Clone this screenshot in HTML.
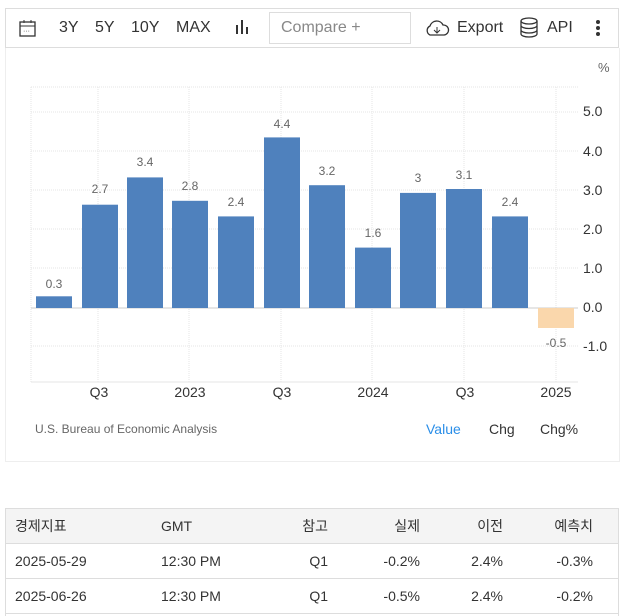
<!DOCTYPE html>
<html><head><meta charset="utf-8"><style>
body{margin:0;width:628px;height:616px;background:#fff;font-family:"Liberation Sans","Noto Sans CJK KR",sans-serif;overflow:hidden;position:relative}
.a{position:absolute}
.tb{left:5px;top:8px;width:614px;height:40px;border:1px solid #ddd;box-sizing:border-box}
.t{position:absolute;font-size:16px;color:#333;top:19px}
.panel{left:5px;top:48px;width:615px;height:414px;border:1px solid #eee;border-top:none;box-sizing:border-box}
table{position:absolute;left:5px;top:508px;width:614px;border-collapse:collapse;font-size:14px;color:#333}
td{height:34px;border-bottom:1px solid #ddd;padding:0}
tr.h td{background:#f4f4f4;height:34px}
</style></head><body>
<div class="a tb"></div>
<svg class="a" style="left:18px;top:18px" width="20" height="20"><rect x="2" y="4" width="15" height="14" fill="none" stroke="#333" stroke-width="1.3"/><line x1="2" y1="8" x2="17" y2="8" stroke="#333"/><line x1="6" y1="2" x2="6" y2="5" stroke="#333"/><line x1="13" y1="2" x2="13" y2="5" stroke="#333"/><text x="5" y="15" font-size="7" fill="#333">···</text></svg>
<div class="t" style="left:59px">3Y</div><div class="t" style="left:95px">5Y</div><div class="t" style="left:131px">10Y</div><div class="t" style="left:176px">MAX</div>
<svg class="a" style="left:235px;top:19px" width="16" height="16"><rect x="1" y="6" width="2" height="9" fill="#333"/><rect x="6" y="1" width="2" height="14" fill="#333"/><rect x="11" y="8" width="2" height="7" fill="#333"/></svg>
<div class="a" style="left:269px;top:12px;width:142px;height:32px;border:1px solid #ddd;box-sizing:border-box"></div>
<div class="t" style="left:281px;color:#888">Compare +</div>
<svg class="a" style="left:424px;top:19px" width="26" height="18"><path d="M6 16 A5 5 0 0 1 6 7 A7 7 0 0 1 19 6 A5 5 0 0 1 20 16 Z" fill="none" stroke="#333" stroke-width="1.3"/><path d="M13 8 V14 M10 11 L13 14 L16 11" stroke="#333" fill="none"/></svg>
<div class="t" style="left:457px">Export</div>
<svg class="a" style="left:519px;top:17px" width="20" height="22"><ellipse cx="10" cy="4" rx="8" ry="3" fill="none" stroke="#333" stroke-width="1.3"/><path d="M2 4V17A8 3 0 0 0 18 17V4M2 8.5A8 3 0 0 0 18 8.5M2 13A8 3 0 0 0 18 13" fill="none" stroke="#333" stroke-width="1.3"/></svg>
<div class="t" style="left:547px">API</div>
<svg class="a" style="left:594px;top:19px" width="8" height="18"><circle cx="4" cy="3" r="2" fill="#333"/><circle cx="4" cy="9" r="2" fill="#333"/><circle cx="4" cy="15" r="2" fill="#333"/></svg>
<div class="a panel"></div>
<svg class="a" style="left:0;top:0" width="628" height="470" font-family="Liberation Sans, sans-serif">
<g stroke="#e6e6e6" stroke-dasharray="1,1">
<line x1="31" y1="87" x2="578" y2="87"/>
<line x1="31" y1="112" x2="578" y2="112"/><line x1="31" y1="151" x2="578" y2="151"/><line x1="31" y1="190" x2="578" y2="190"/><line x1="31" y1="229" x2="578" y2="229"/><line x1="31" y1="268" x2="578" y2="268"/><line x1="31" y1="346" x2="578" y2="346"/>
<line x1="31" y1="87" x2="31" y2="382"/><line x1="98" y1="87" x2="98" y2="382"/><line x1="189" y1="87" x2="189" y2="382"/><line x1="281" y1="87" x2="281" y2="382"/><line x1="372" y1="87" x2="372" y2="382"/><line x1="464" y1="87" x2="464" y2="382"/><line x1="556" y1="87" x2="556" y2="382"/>
</g>
<line x1="31" y1="382" x2="578" y2="382" stroke="#e6e6e6"/>
<line x1="31" y1="308" x2="578" y2="308" stroke="#ccc"/>
<g fill="#4f81bd">
<rect x="36" y="296.3" width="36" height="11.7"/><rect x="82" y="204.7" width="36" height="103.3"/><rect x="127" y="177.4" width="36" height="130.6"/><rect x="172" y="200.8" width="36" height="107.2"/><rect x="218" y="216.4" width="36" height="91.6"/><rect x="264" y="137.4" width="36" height="170.6"/><rect x="309" y="185.2" width="36" height="122.8"/><rect x="355" y="247.6" width="36" height="60.4"/><rect x="400" y="192.9" width="36" height="115.1"/><rect x="446" y="189" width="36" height="119"/><rect x="492" y="216.4" width="36" height="91.6"/>
</g>
<rect x="538" y="308" width="36" height="20" fill="#fad7ac"/>
<g font-size="12" fill="#666" text-anchor="middle">
<text x="54" y="288">0.3</text><text x="100" y="193">2.7</text><text x="145" y="166">3.4</text><text x="190" y="190">2.8</text><text x="236" y="206">2.4</text><text x="282" y="128">4.4</text><text x="327" y="175">3.2</text><text x="373" y="237">1.6</text><text x="418" y="182">3</text><text x="464" y="179">3.1</text><text x="510" y="206">2.4</text><text x="556" y="347">-0.5</text>
</g>
<g font-size="14" fill="#333">
<text x="583" y="116">5.0</text><text x="583" y="156">4.0</text><text x="583" y="195">3.0</text><text x="583" y="234">2.0</text><text x="583" y="273">1.0</text><text x="583" y="312">0.0</text><text x="583" y="351">-1.0</text>
<text x="598" y="72" font-size="13" fill="#666">%</text>
<g text-anchor="middle"><text x="99" y="397">Q3</text><text x="190" y="397">2023</text><text x="282" y="397">Q3</text><text x="373" y="397">2024</text><text x="465" y="397">Q3</text><text x="556" y="397">2025</text></g>
</g>
<text x="35" y="433" font-size="12" fill="#666">U.S. Bureau of Economic Analysis</text>
<text x="426" y="434" font-size="14" fill="#2a8ee8">Value</text>
<text x="489" y="434" font-size="14" fill="#333">Chg</text>
<text x="540" y="434" font-size="14" fill="#333">Chg%</text>
</svg>
<table>
<tr class="h" style="border-top:1px solid #ddd"><td style="padding-left:10px;width:146px">경제지표</td><td style="width:100px">GMT</td><td style="text-align:right;width:67px">참고</td><td style="text-align:right;width:92px">실제</td><td style="text-align:right;width:83px">이전</td><td style="text-align:right;width:90px">예측치</td><td></td></tr>
<tr><td style="padding-left:10px">2025-05-29</td><td>12:30 PM</td><td style="text-align:right">Q1</td><td style="text-align:right">-0.2%</td><td style="text-align:right">2.4%</td><td style="text-align:right">-0.3%</td><td></td></tr>
<tr><td style="padding-left:10px">2025-06-26</td><td>12:30 PM</td><td style="text-align:right">Q1</td><td style="text-align:right">-0.5%</td><td style="text-align:right">2.4%</td><td style="text-align:right">-0.2%</td><td></td></tr>
</table>
<div class="a" style="left:5px;top:508px;width:1px;height:108px;background:#ddd"></div>
<div class="a" style="left:618px;top:508px;width:1px;height:108px;background:#ddd"></div>
</body></html>
